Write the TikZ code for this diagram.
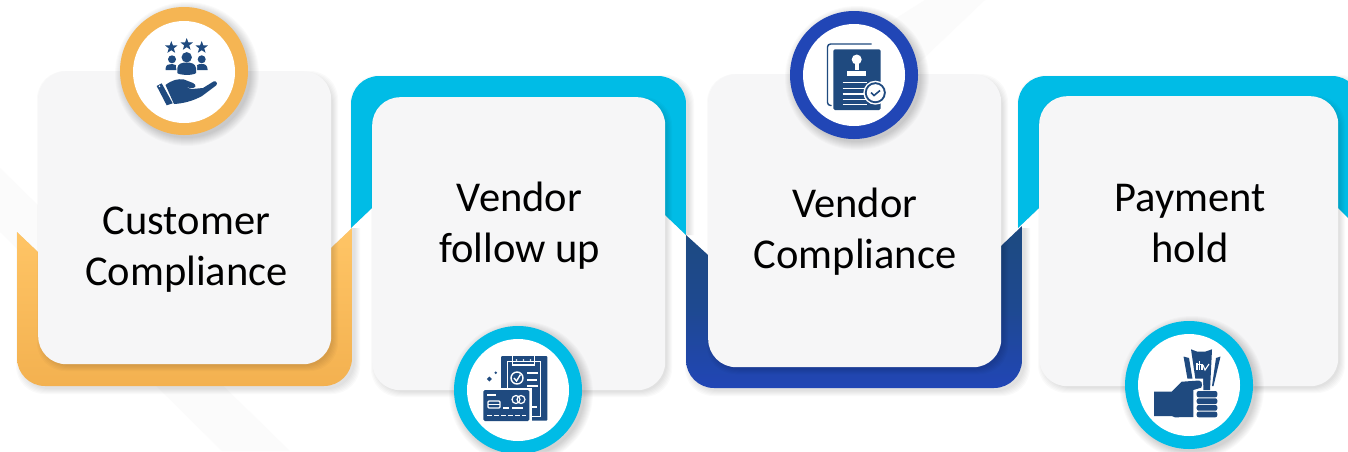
\documentclass[tikz,border=0pt]{standalone}
\usepackage{fontspec}
\setmainfont{Carlito}
\usetikzlibrary{shapes.geometric}
\definecolor{cardfill}{HTML}{F6F6F7}
\definecolor{bandfill}{HTML}{FBFBFB}
\definecolor{navyicon}{HTML}{1F4A7F}
\definecolor{ringorange}{HTML}{F5B553}
\definecolor{orangetop}{HTML}{FFC566}
\definecolor{orangelow}{HTML}{F3B150}
\definecolor{ringcyan}{HTML}{00BCE6}
\definecolor{ringblue}{HTML}{2146B6}
\definecolor{darknavy}{HTML}{1D4A80}
\tikzset{
  x=1pt,y=-1pt,
  cardbox/.style={draw=none,fill=cardfill,rounded corners=28pt,inner sep=0pt,anchor=north west},
  ringdisc/.style={circle,draw=none,inner sep=0pt},
  innerdisc/.style={circle,draw=none,fill=white,inner sep=0pt,minimum size=102pt},
  caption/.style={align=center,text=black,font=\fontsize{42.5}{51}\selectfont,inner sep=0pt},
  iconfill/.style={fill=navyicon,draw=none},
  iconline/.style={draw=navyicon,line width=1.4pt},
  whiteline/.style={draw=white,line width=1.5pt},
  hole/.style={fill=white,draw=none},
  starmark/.style={star,star points=5,star point ratio=2.4,fill=navyicon,draw=none,inner sep=0pt,minimum size=13pt},
}
% soft shadow: x1 y1 x2 y2 radius
\newcommand\softbox[5]{%
  \foreach \e in {5,4,3,2,1,0}{%
    \fill[black,opacity=0.018,rounded corners=#5pt]
      ({#1-\e},{#2-\e}) rectangle ({#3+\e},{#4+\e});
  }%
}
\newcommand\softdisc[3]{%
  \foreach \e in {8,7,6,5,4,3,2,1,0}{%
    \fill[black,opacity=0.018] (#1,#2) circle ({#3+\e});
  }%
}
\begin{document}
\begin{tikzpicture}
\useasboundingbox (0,0) rectangle (1348,451);
\clip (0,0) rectangle (1348,451);
\fill[white] (0,0) rectangle (1348,451);
% background bands
\fill[bandfill] (0,168) -- (290,451) -- (222,451) -- (0,232) -- cycle;
\fill[bandfill] (925,0) -- (985,0) -- (880,100) -- (830,60) -- cycle;

% ---- back shapes ----
\begin{scope}
  \clip (17,232) -- (38,252) -- (331,248) -- (352,228) -- (375,228) -- (375,410) -- (0,410) -- (0,232) -- cycle;
  \softbox{21}{60}{355}{389}{28}
\end{scope}
\begin{scope}
  \clip[rounded corners=28pt] (17,60) rectangle (352,386);
  \clip (17,232) -- (38,252) -- (331,248) -- (352,228) -- (352,386) -- (17,386) -- cycle;
  \shade[top color=orangetop,bottom color=orangelow] (17,228) rectangle (352,386);
\end{scope}

\begin{scope}
  \clip (351,228) -- (372,208) -- (665,215) -- (686,235) -- (700,235) -- (700,60) -- (340,60) -- (340,228) -- cycle;
  \softbox{355}{80}{689}{300}{28}
\end{scope}
\begin{scope}
  \clip[rounded corners=28pt] (351,76) rectangle (686,400);
  \clip (351,228) -- (372,208) -- (665,215) -- (686,235) -- (686,76) -- (351,76) -- cycle;
  \fill[ringcyan] (351,76) rectangle (686,235);
\end{scope}

\begin{scope}
  \clip (686,235) -- (708,255) -- (1001,248) -- (1022,228) -- (1040,228) -- (1040,410) -- (670,410) -- (670,235) -- cycle;
  \softbox{690}{60}{1025}{391}{28}
\end{scope}
\begin{scope}
  \clip[rounded corners=28pt] (686,60) rectangle (1022,388);
  \clip (686,235) -- (708,255) -- (1001,246) -- (1022,226) -- (1022,388) -- (686,388) -- cycle;
  \shade[top color=darknavy,bottom color=ringblue,middle color=darknavy!70!ringblue] (686,226) rectangle (1022,388);
\end{scope}

\begin{scope}
  \clip (1018,228) -- (1039,208) -- (1338,208) -- (1360,230) -- (1360,60) -- (1005,60) -- (1005,228) -- cycle;
  \softbox{1022}{80}{1364}{300}{28}
\end{scope}
\begin{scope}
  \clip[rounded corners=28pt] (1018,76) rectangle (1360,400);
  \clip (1018,228) -- (1039,208) -- (1338,208) -- (1360,230) -- (1360,76) -- (1018,76) -- cycle;
  \fill[ringcyan] (1018,76) rectangle (1360,235);
\end{scope}

% ---- cards ----
\softbox{42}{76}{333}{366}{28}
\node[cardbox,minimum width=293pt,minimum height=293pt] (card1) at (38,71) {};
\softbox{376}{102}{667}{392}{28}
\node[cardbox,minimum width=293pt,minimum height=293pt] (card2) at (372,97) {};
\softbox{712}{79}{1003}{369}{28}
\node[cardbox,minimum width=293pt,minimum height=293pt] (card3) at (708,74) {};
\softbox{1043}{101}{1340}{388}{28}
\node[cardbox,minimum width=299pt,minimum height=290pt] (card4) at (1039,96) {};

% ---- captions ----
\node[caption] (cap1) at (186.5,250) {Customer\\Compliance};
\node[caption] (cap2) at (519.5,226) {Vendor\\follow up};
\node[caption] (cap3) at (855,231.5) {Vendor\\Compliance};
\node[caption] (cap4) at (1190,223.5) {Payment\\hold};

% ---- rings ----
\softdisc{187}{74}{64}
\node[ringdisc,fill=ringorange,minimum size=128pt] (ring1) at (184,71) {};
\node[innerdisc] (disc1) at (184,72) {};
\softdisc{857}{78}{64}
\node[ringdisc,fill=ringblue,minimum size=128pt] (ring2) at (854,75) {};
\node[innerdisc] (disc2) at (854,75) {};
\softdisc{521}{393}{64}
\node[ringdisc,fill=ringcyan,minimum size=128pt] (ring3) at (518,390) {};
\node[innerdisc] (disc3) at (518,390) {};
\softdisc{1192}{388}{64}
\node[ringdisc,fill=ringcyan,minimum size=128pt] (ring4) at (1189,385) {};
\node[innerdisc] (disc4) at (1189,385) {};

% ---- icon 1: people on a hand ----
\node[starmark] (s1) at (171.3,47.5) {};
\node[starmark] (s2) at (186.7,44.5) {};
\node[starmark] (s3) at (201.7,47.5) {};
\fill[iconfill] (172,59.3) circle (4);
\fill[iconfill] (201.7,59.3) circle (4);
\fill[iconfill] (165.7,70) -- (165.7,68) .. controls (166,64.5) and (169,64) .. (172,64) .. controls (175,64) and (178,65) .. (178,70) -- cycle;
\fill[iconfill] (195,70) .. controls (195,65) and (198,64) .. (201.7,64) .. controls (205,64) and (207.5,65) .. (207.7,70) -- cycle;
\fill[white] (177,76) -- (176,66) .. controls (176,60) and (197,60) .. (197,66) -- (197,76) -- cycle;
\fill[iconfill] (186.7,57.3) circle (5.2);
\fill[iconfill] (177.3,73) -- (177.3,68) .. controls (178,63.5) and (182,62.5) .. (186.7,62.5) .. controls (191,62.5) and (195.5,63.5) .. (196,68) -- (196,73) .. controls (194,75.5) and (180,75.5) .. (177.3,73) -- cycle;
\fill[iconfill] (156.7,86) -- (161.7,83.3) -- (172.7,103.3) -- (166.7,105.3) -- cycle;
\fill[hole] (159.5,86.2) circle (0.9);
\fill[iconfill] (165.5,85) .. controls (172,80) and (178,78.5) .. (184,79.5) -- (193,83) .. controls (197,85) and (196,88.5) .. (191,88) -- (184,87) -- (192,89) -- (203,88) -- (213.5,81.5) .. controls (216.5,80.5) and (218,83.5) .. (216,85.5) -- (202,96) .. controls (193,101) and (183,103.5) .. (174,104) -- cycle;

% ---- icon 2: stamped document ----
\draw[iconline,rounded corners=3pt] (871.7,44) -- (827.5,44) -- (827.5,105.5) -- (831.5,105.5);
\fill[iconfill,rounded corners=1.5pt] (833.3,49.3) rectangle (880.7,110);
\fill[hole] (856.7,59.5) circle (5);
\fill[hole] (854.7,62) rectangle (858.7,70);
\fill[hole] (847,71) -- (866,71) -- (866,76) -- (847,76) -- cycle;
\foreach \ly in {82.7,88.3,94,99.3,104.3}{\draw[whiteline] (842.7,\ly) -- (866.7,\ly);}
\fill[hole] (875.3,92.7) circle (12);
\fill[iconfill] (875.3,92.7) circle (10.5);
\fill[hole] (875.3,92.7) circle (8.5);
\draw[draw=navyicon,line width=1.6pt] (871,92.6) -- (874,95.5) -- (880,90.5);

% ---- icon 3: clipboard and card ----
\fill[iconfill,rounded corners=1pt] (501,356) rectangle (547.3,420.7);
\draw[draw=white,line width=1pt] (507.7,361) rectangle (540.3,416);
\draw[draw=white,line width=1.2pt] (512.7,356) -- (512.7,365) -- (534.7,365) -- (534.7,356);
\foreach \dx in {516.5,523.5,530.5}{\fill[hole] (\dx,360) circle (0.9);}
\draw[draw=white,line width=1.4pt] (517,378) circle (6);
\draw[draw=white,line width=1.4pt] (514,378) -- (516.5,381) -- (520.5,374.5);
\foreach \ly/\xa/\xb in {373/527/538,380/527/537,386/527/538}{\draw[whiteline] (\xa,\ly) -- (\xb,\ly);}
\draw[draw=white,line width=1.2pt] (531,407) -- (537,407);
\fill[hole] (481,388) rectangle (531.5,423);
\fill[iconfill,rounded corners=1.5pt] (483.3,390) rectangle (529.3,421);
\fill[iconfill] (489.3,376.5) -- (491.8,379) -- (489.3,381.5) -- (486.8,379) -- cycle;
\fill[iconfill] (495.7,372.7) circle (1.4);
\draw[whiteline] (487,395) -- (496,395);
\draw[draw=white,line width=1.2pt,rounded corners=1pt] (488,401) rectangle (500,408);
\draw[draw=white,line width=1pt] (488,404.5) -- (500,404.5);
\draw[draw=white,line width=1.2pt] (516,399.5) circle (4);
\draw[draw=white,line width=1.2pt] (521,399.5) circle (4);
\draw[whiteline] (503,408) -- (509,408);
\draw[whiteline] (512,408) -- (523,408);
\draw[whiteline,dash pattern=on 5pt off 2pt] (487,415.5) -- (526,415.5);

% ---- icon 4: hand with banknotes ----
\fill[iconfill] (1183.5,356.5) -- (1189,358) -- (1193,382) -- (1188,382) -- cycle;
\fill[iconfill] (1220.5,356.5) -- (1216,358) -- (1212,386) -- (1213.5,386) -- cycle;
\fill[iconfill] (1191,349.3) -- (1197.3,351.7) -- (1205,351.7) -- (1212,349.3) -- (1210,390) -- (1197,390) -- cycle;
\draw[draw=white,line width=1.1pt] (1197,362.5) -- (1197,370);
\draw[draw=white,line width=1.1pt] (1199.5,361) -- (1199.5,370);
\draw[draw=white,line width=1.1pt] (1198,364.5) -- (1202,364.5) -- (1202,370);
\draw[draw=white,line width=1.1pt] (1203,365) -- (1205,370) -- (1209,364);
\fill[hole] (1169,379) -- (1203,378.5) -- (1203.5,393) -- (1169,393) -- cycle;
\fill[iconfill] (1154,391.7) -- (1171.7,391.7) -- (1181.7,381.7) -- (1199,380.5) .. controls (1201.5,380.5) and (1202,383) .. (1202,385) .. controls (1202,387.5) and (1201,388.3) .. (1199,388.3) -- (1193.3,390) -- (1193.3,417) -- (1175,417.3) -- (1171.7,416) -- (1154,416) -- cycle;
\foreach \ya/\yb in {391/397.3,398.3/404,405/410.7,411.7/417.3}{\fill[iconfill,rounded corners=2pt] (1196.7,\ya) rectangle (1217.3,\yb);}
\end{tikzpicture}
\end{document}
